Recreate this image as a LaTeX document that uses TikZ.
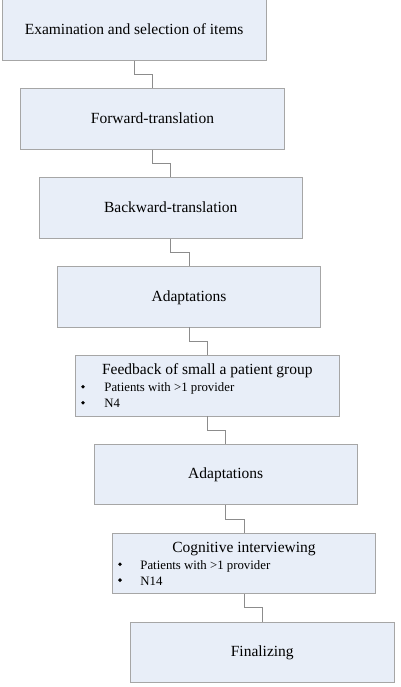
\documentclass[tikz,border=0pt]{standalone}
\usepackage{fontspec}
\setmainfont{Liberation Serif}
\usetikzlibrary{calc}
\definecolor{boxfill}{HTML}{E8EEF8}
\definecolor{boxline}{HTML}{A6A6A6}
\definecolor{linkline}{HTML}{8C8C8C}
\begin{document}
\begin{tikzpicture}[x=1pt,y=-1pt,
 stepbox/.style={draw=boxline, fill=boxfill, line width=0.8pt, minimum width=263.5pt, minimum height=60.5pt, anchor=north west, inner sep=0pt, font=\fontsize{15.5}{18}\selectfont, text height=11pt, text depth=2pt},
 title/.style={font=\fontsize{15.5}{18}\selectfont, anchor=base, inner sep=0pt},
 item/.style={font=\fontsize{12.8}{15}\selectfont, anchor=base west, inner sep=0pt},
 bul/.style={circle, fill=black, inner sep=0pt, minimum size=3.8pt},
 link/.style={draw=linkline, line width=0.8pt}]
\useasboundingbox (0,0) rectangle (400,687);
\node[stepbox] (b1) at (2,-0.5) {Examination and selection of items};
\node[stepbox] (b2) at (20.3,88.4) {Forward-translation};
\node[stepbox] (b3) at (38.6,177.2) {Backward-translation};
\node[stepbox] (b4) at (56.9,266.1) {Adaptations};
\node[stepbox] (b5) at (75.2,355) {};
\node[stepbox] (b6) at (93.5,443.8) {Adaptations};
\node[stepbox] (b7) at (111.8,532.7) {};
\node[stepbox] (b8) at (130.1,621.5) {Finalizing};
% contents of box 5
\node[title] (t5) at ($(b5.north)+(0,19.5)$) {Feedback of small a patient group};
\node[bul] (d5a) at ($(b5.north west)+(7.8,31.7)$) {};
\node[item] (i5a) at ($(b5.north west)+(29,36.7)$) {Patients with >1 provider};
\node[bul] (d5b) at ($(b5.north west)+(7.8,47.7)$) {};
\node[item] (i5b) at ($(b5.north west)+(29,52.7)$) {N4};
% contents of box 7
\node[title] (t7) at ($(b7.north)+(0,19.6)$) {Cognitive interviewing};
\node[bul] (d7a) at ($(b7.north west)+(8.2,31.6)$) {};
\node[item] (i7a) at ($(b7.north west)+(28.4,36.6)$) {Patients with >1 provider};
\node[bul] (d7b) at ($(b7.north west)+(8.2,47.4)$) {};
\node[item] (i7b) at ($(b7.north west)+(28.4,52.4)$) {N14};
% connectors
\foreach \a/\b in {b1/b2,b2/b3,b3/b4,b4/b5,b5/b6,b6/b7,b7/b8}{
  \draw[link] (\a.south) |- ($(\a.south)!.5!(\b.north)$) -| (\b.north);
}
\end{tikzpicture}
\end{document}
